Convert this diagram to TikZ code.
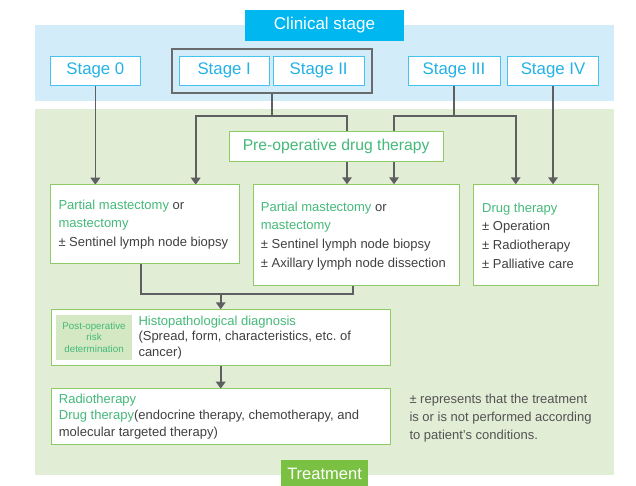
\documentclass[tikz,border=0pt]{standalone}
\usepackage{fontspec}
\setmainfont{Liberation Sans}
\usetikzlibrary{arrows.meta}
\definecolor{bandblue}{HTML}{D3ECFA}
\definecolor{clinfill}{HTML}{00B7F0}
\definecolor{stageline}{HTML}{45C3EE}
\definecolor{stagetext}{HTML}{23B2E7}
\definecolor{bandgreen}{HTML}{E2EDD6}
\definecolor{greenline}{HTML}{8FCB64}
\definecolor{greentext}{HTML}{45B97A}
\definecolor{postfill}{HTML}{D4E8C3}
\definecolor{treatfill}{HTML}{7AC143}
\definecolor{darktext}{HTML}{404040}
\definecolor{conncol}{HTML}{5E5F61}
\definecolor{outercol}{HTML}{6A6B6D}
\pgfdeclarelayer{bands}
\pgfdeclarelayer{lines}
\pgfsetlayers{bands,lines,main}
\newcommand{\gr}[1]{\textcolor{greentext}{#1}}
\frenchspacing
\begin{document}
\begin{tikzpicture}[x=1pt,y=-1pt,
  stagebox/.style={draw=stageline, fill=white, line width=0.9pt, text=stagetext,
    font=\fontsize{16.8}{18}\selectfont, inner sep=0pt, outer sep=0pt, minimum height=29.7pt},
  greenbox/.style={draw=greenline, fill=white, line width=1pt, anchor=north west, inner sep=0pt, outer sep=0pt},
  bodytext/.style={align=left, font=\fontsize{13}{18.6}\selectfont, text=darktext, inner sep=0pt, anchor=west},
  conn/.style={draw=conncol, line width=1.7pt},
  arr/.style={conn, -{Triangle[width=9.5pt,length=7pt]}}]
\useasboundingbox (0,0) rectangle (636,485);
\clip (0,0) rectangle (636,485);
\begin{pgfonlayer}{bands}
\fill[bandblue] (35,25) rectangle (614,100.7);
\fill[bandgreen] (35,109) rectangle (614,475);
\end{pgfonlayer}
% header
\node[fill=clinfill, text=white, font=\fontsize{17}{18}\selectfont, minimum width=159pt, minimum height=30.7pt, inner sep=0pt] (clin) at (324.5,25.35) {Clinical stage};
% stages
\node[stagebox, minimum width=90.7pt] (s0) at (95.35,70.85) {Stage 0};
\node[draw=outercol, line width=1.6pt, minimum width=200pt, minimum height=44pt, anchor=north west, inner sep=0pt, outer sep=0pt] (s12) at (171.7,48.7) {};
\node[stagebox, minimum width=90.3pt] (s1) at (224.15,70.85) {Stage I};
\node[stagebox, minimum width=90.7pt] (s2) at (318.65,70.85) {Stage II};
\node[stagebox, minimum width=92pt] (s3) at (454,70.85) {Stage III};
\node[stagebox, minimum width=90.6pt] (s4) at (553,70.85) {Stage IV};
% pre-operative
\node[greenbox, minimum width=214.3pt, minimum height=29.6pt, text=greentext, font=\fontsize{15.7}{18}\selectfont] (pre) at (229,131.7) {Pre-operative drug therapy};
% treatment boxes
\node[greenbox, minimum width=189pt, minimum height=78.6pt] (b1) at (50.3,184.7) {};
\node[bodytext] (t1) at (58.3,224.3) {\gr{Partial mastectomy} or\\\gr{mastectomy}\\± Sentinel lymph node biopsy};
\node[greenbox, minimum width=205.7pt, minimum height=101.4pt] (b2) at (253.3,184.3) {};
\node[bodytext] (t2) at (260.7,235.8) {\gr{Partial mastectomy} or\\\gr{mastectomy}\\± Sentinel lymph node biopsy\\± Axillary lymph node dissection};
\node[greenbox, minimum width=124.6pt, minimum height=101.4pt] (b3) at (473.7,184.3) {};
\node[bodytext] (t3) at (482,235.6) {\gr{Drug therapy}\\± Operation\\± Radiotherapy\\± Palliative care};
% histopathological
\node[greenbox, minimum width=339.7pt, minimum height=55.7pt] (histo) at (51,309.3) {};
\node[fill=postfill, anchor=north west, minimum width=76.3pt, minimum height=45.7pt, inner sep=0pt, text=greentext, align=center, font=\fontsize{9.8}{11.3}\selectfont] (post) at (55.7,314.3) {Post-operative\\risk\\determination};
\node[bodytext, font=\fontsize{13}{15.8}\selectfont] (th) at (138.3,337.5) {\gr{Histopathological diagnosis}\\(Spread, form, characteristics, etc. of\\cancer)};
% radiotherapy
\node[greenbox, minimum width=339.3pt, minimum height=55.6pt] (radio) at (51,388.7) {};
\node[bodytext, font=\fontsize{13}{16.3}\selectfont] (tr) at (58.7,416.4) {\gr{Radiotherapy}\\\gr{Drug therapy}(endocrine therapy, chemotherapy, and\\molecular targeted therapy)};
% note
\node[bodytext, font=\fontsize{13}{18}\selectfont, text=darktext!90] (note) at (409.3,418.3) {± represents that the treatment\\is or is not performed according\\to patient's conditions.};
% treatment label
\node[fill=treatfill, text=white, anchor=north west, minimum width=86.7pt, minimum height=28pt, inner sep=0pt, font=\fontsize{16.5}{18}\selectfont] (treat) at (281,460) {Treatment};
% connector coordinates
\coordinate (j12) at (271.7,116);
\coordinate (b1a) at (195.7,184.7);
\coordinate (b2a) at (347,184.3);
\coordinate (j3) at (454,116);
\coordinate (b2b) at (394,184.3);
\coordinate (b3a) at (515.7,184.3);
\coordinate (b1o) at (140.7,263.3);
\coordinate (b2o) at (352.7,285.7);
\coordinate (jm) at (220.7,294);
\begin{pgfonlayer}{lines}
\draw[arr] (s0.south) -- (s0.south |- b1.north);
\draw[conn] (s12.south) -- (j12);
\draw[arr] (j12) -| (b1a);
\draw[arr] (j12) -| (b2a);
\draw[conn] (s3.south) -- (j3);
\draw[arr] (j3) -| (b2b);
\draw[arr] (j3) -| (b3a);
\draw[arr] (s4.south) -- (s4.south |- b3.north);
\draw[conn] (b1o) |- (jm);
\draw[conn] (b2o) |- (jm);
\draw[arr] (jm) -- (jm |- histo.north);
\draw[arr] (jm |- histo.south) -- (jm |- radio.north);
\end{pgfonlayer}
\end{tikzpicture}
\end{document}
